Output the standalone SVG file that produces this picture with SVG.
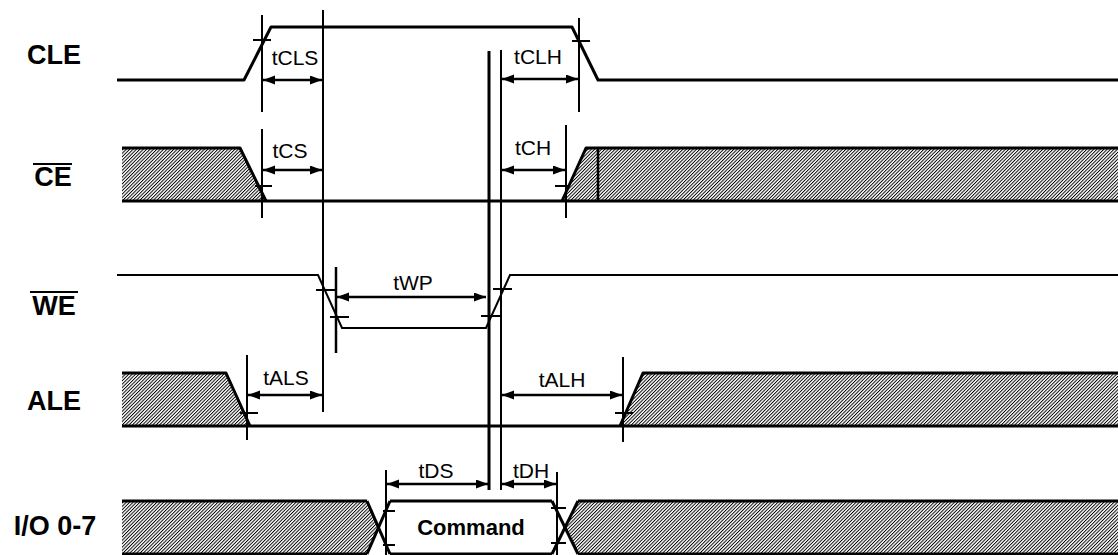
<svg xmlns="http://www.w3.org/2000/svg" width="1118" height="555" viewBox="0 0 1118 555">
<style>
.lbl{font-family:"Liberation Sans",Arial,sans-serif;font-weight:bold;font-size:27px;fill:#000;text-anchor:middle}
.t{font-family:"Liberation Sans",Arial,sans-serif;font-size:21px;fill:#000;text-anchor:middle}
.cmd{font-family:"Liberation Sans",Arial,sans-serif;font-weight:bold;font-size:22px;fill:#000;text-anchor:middle}
.sig{fill:none;stroke:#000;stroke-width:3;stroke-linejoin:round}
.sigt{fill:none;stroke:#000;stroke-width:2}
.ref{stroke:#000;stroke-width:2;fill:none}
.tick{stroke:#000;stroke-width:2}
.hatch{fill:url(#hatch);stroke:none}
.arr{stroke:#000;stroke-width:2.5;fill:none;marker-start:url(#ah);marker-end:url(#ah)}
</style>
<defs>
<pattern id="hatch" width="2.4" height="10" patternUnits="userSpaceOnUse" patternTransform="rotate(45)">
<rect x="0" y="0" width="0.95" height="10" fill="#000"/>
</pattern>
<marker id="ah" markerUnits="userSpaceOnUse" markerWidth="12" markerHeight="10" refX="12" refY="4.5" orient="auto-start-reverse">
<path d="M0,0 L12,4.5 L0,9 z" fill="#000"/>
</marker>
</defs>
<rect width="1118" height="555" fill="#fff"/>

<g id="labels">
<text class="lbl" x="54" y="64">CLE</text>
<text class="lbl" x="53" y="186">CE</text>
<line class="tick" x1="33" y1="164" x2="72" y2="164"/>
<text class="lbl" x="54" y="315">WE</text>
<line class="tick" x1="30" y1="292" x2="78" y2="292"/>
<text class="lbl" x="54" y="410">ALE</text>
<text class="lbl" x="55" y="535">I/O 0-7</text>
</g>

<g id="CLE">
<polyline class="sig" points="117,80 244,80 271,27 572,27 598,80 1118,80"/>
</g>

<g id="CE">
<polygon class="hatch" points="122,148 240,148 266,201 122,201"/>
<polygon class="hatch" points="562,201 586,148 1118,148 1118,201"/>
<polyline class="sig" points="122,148 240,148 266,201"/>
<polyline class="sig" points="562,201 586,148 1118,148"/>
<line class="sig" x1="122" y1="201" x2="1118" y2="201"/>
<line class="sig" x1="598" y1="148" x2="598" y2="201" style="stroke-width:2.5"/>
</g>

<g id="WE">
<polyline class="sigt" points="117,275 318,275 342,328 486,328 510,275 1118,275"/>
</g>

<g id="ALE">
<polygon class="hatch" points="122,373 226,373 250,426 122,426"/>
<polygon class="hatch" points="620,426 643,373 1118,373 1118,426"/>
<polyline class="sig" points="122,373 226,373 250,426"/>
<polyline class="sig" points="620,426 643,373 1118,373"/>
<line class="sig" x1="122" y1="426" x2="1118" y2="426"/>
</g>

<g id="IO">
<polygon class="hatch" points="122,501 367,501 378.5,527.5 367,554 122,554"/>
<polygon class="hatch" points="578,501 1118,501 1118,554 578,554 565,527.5"/>
<line class="sig" x1="122" y1="501" x2="367" y2="501"/>
<line class="sig" x1="122" y1="554" x2="367" y2="554"/>
<line class="sig" x1="367" y1="501" x2="390" y2="554"/>
<line class="sig" x1="390" y1="501" x2="367" y2="554"/>
<line class="sig" x1="390" y1="501" x2="552" y2="501"/>
<line class="sig" x1="390" y1="554" x2="552" y2="554"/>
<line class="sig" x1="552" y1="501" x2="578" y2="554"/>
<line class="sig" x1="578" y1="501" x2="552" y2="554"/>
<line class="sig" x1="578" y1="501" x2="1118" y2="501"/>
<line class="sig" x1="578" y1="554" x2="1118" y2="554"/>
<text class="cmd" x="471" y="535">Command</text>
</g>

<g id="reference-lines">
<line class="ref" x1="262" y1="15" x2="262" y2="112"/>
<line class="ref" x1="262" y1="129" x2="262" y2="218"/>
<line class="ref" x1="323" y1="10" x2="323" y2="412"/>
<line class="ref" x1="336" y1="267" x2="336" y2="353" style="stroke-width:2.5"/>
<line class="ref" x1="247" y1="355" x2="247" y2="440"/>
<line class="ref" x1="489" y1="51" x2="489" y2="490" style="stroke-width:3"/>
<line class="ref" x1="501" y1="50" x2="501" y2="490"/>
<line class="ref" x1="566" y1="125" x2="566" y2="218"/>
<line class="ref" x1="579" y1="18" x2="579" y2="112"/>
<line class="ref" x1="623" y1="357" x2="623" y2="442"/>
<line class="ref" x1="386" y1="470" x2="386" y2="555"/>
<line class="ref" x1="557" y1="472" x2="557" y2="555"/>
<line class="tick" x1="253" y1="40" x2="271" y2="40"/>
<line class="tick" x1="255" y1="186" x2="272" y2="186"/>
<line class="tick" x1="555" y1="186" x2="568" y2="186"/>
<line class="tick" x1="572" y1="41" x2="590" y2="41"/>
<line class="tick" x1="316" y1="290" x2="335" y2="290"/>
<line class="tick" x1="330" y1="317" x2="349" y2="317"/>
<line class="tick" x1="493" y1="289" x2="512" y2="289"/>
<line class="tick" x1="481" y1="316" x2="501" y2="316"/>
<line class="tick" x1="240" y1="413" x2="258" y2="413"/>
<line class="tick" x1="615" y1="413" x2="633" y2="413"/>
<line class="tick" x1="383" y1="511" x2="395" y2="511"/>
<line class="tick" x1="383" y1="545" x2="395" y2="545"/>
<line class="tick" x1="551" y1="508" x2="566" y2="508"/>
<line class="tick" x1="551" y1="543" x2="566" y2="543"/>
</g>

<g id="connectors">
<line class="arr" x1="263" y1="80" x2="322" y2="80"/>
<line class="arr" x1="263" y1="170" x2="322" y2="170"/>
<line class="arr" x1="502" y1="79" x2="578" y2="79"/>
<line class="arr" x1="502" y1="170" x2="565" y2="170"/>
<line class="arr" x1="337" y1="297" x2="486" y2="297"/>
<line class="arr" x1="248" y1="395" x2="322" y2="395"/>
<line class="arr" x1="502" y1="395" x2="622" y2="395"/>
<line class="arr" x1="387" y1="484" x2="488" y2="484"/>
<line class="arr" x1="502" y1="484" x2="556" y2="484"/>
</g>

<g id="timing-labels">
<text class="t" x="295" y="65">tCLS</text>
<text class="t" x="290" y="158">tCS</text>
<text class="t" x="538" y="64">tCLH</text>
<text class="t" x="533" y="155">tCH</text>
<text class="t" x="413" y="290">tWP</text>
<text class="t" x="286" y="385">tALS</text>
<text class="t" x="562" y="387">tALH</text>
<text class="t" x="436" y="478">tDS</text>
<text class="t" x="531" y="478">tDH</text>
</g>
</svg>
